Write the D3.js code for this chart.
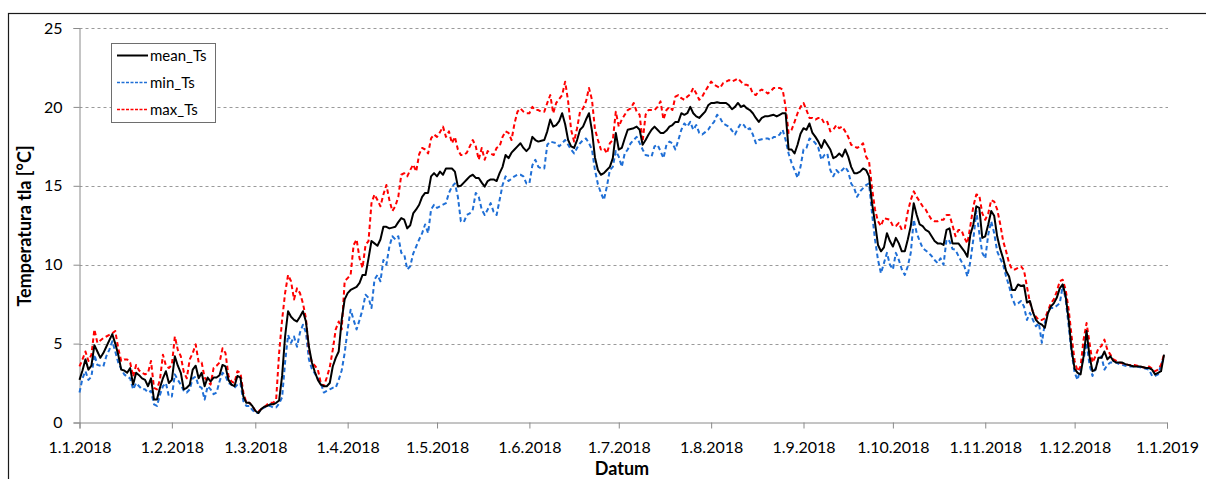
<!DOCTYPE html>
<html>
<head>
<meta charset="utf-8">
<script src="https://cdn.jsdelivr.net/npm/d3@7"></script>
<style>
  html, body { margin: 0; padding: 0; background: #fff; }
  svg { display: block; font-family: "Lato", "Liberation Sans", sans-serif; }
</style>
</head>
<body>
<svg id="chart" width="1206" height="479"></svg>
<script>
// Daily soil temperature, 1.1.2018 - 31.12.2018 (°C)
const startDate = new Date(2018, 0, 1);
const endDate = new Date(2019, 0, 1);

const meanTs = [
  2.7, 3.3, 4.0, 3.35, 3.6, 4.9, 4.5, 4.1, 4.4, 4.8,
  5.2, 5.6, 5.0, 4.3, 3.35, 3.3, 3.15, 3.45, 2.4, 3.15,
  3.0, 2.8, 2.7, 2.3, 2.8, 1.45, 1.45, 2.2, 2.8, 3.25,
  2.5, 2.7, 4.2, 3.6, 3.15, 2.1, 2.2, 2.4, 3.35, 3.6,
  2.8, 3.15, 2.3, 2.85, 2.6, 2.85, 2.85, 3.0, 3.65, 3.55,
  2.7, 2.4, 2.3, 2.95, 2.85, 1.65, 1.25, 1.25, 1.05, 0.75,
  0.6, 0.85, 1.0, 1.05, 1.15, 1.15, 1.25, 1.4, 2.95, 5.45,
  7.05, 6.7, 6.5, 6.4, 6.7, 7.05, 6.4, 4.8, 3.8, 3.2,
  2.7, 2.4, 2.3, 2.3, 2.5, 3.55, 4.1, 4.5, 6.5, 7.8,
  8.2, 8.4, 8.5, 8.6, 8.85, 9.35, 9.35, 10.4, 11.5, 11.35,
  11.2, 11.6, 12.4, 12.4, 12.3, 12.35, 12.4, 12.7, 12.95, 12.85,
  12.3, 12.5, 13.25, 13.5, 13.8, 14.3, 14.55, 14.55, 15.6, 15.8,
  15.6, 15.9, 15.7, 16.1, 16.1, 16.1, 15.9, 14.95, 15.0, 15.2,
  15.4, 15.6, 15.7, 15.5, 15.5, 15.2, 14.95, 15.3, 15.4, 15.4,
  15.3, 15.8, 16.2, 16.95, 16.75, 17.1, 17.3, 17.5, 17.7, 17.4,
  17.2, 17.4, 18.1, 17.9, 17.8, 17.85, 17.9, 18.45, 19.2, 18.75,
  18.85, 19.1, 19.6, 18.9, 17.9, 17.5, 17.4, 17.9, 18.55, 18.75,
  19.2, 19.6, 18.5, 16.8, 16.0, 15.7, 15.8, 16.0, 16.2, 16.75,
  18.35, 17.3, 17.4, 18.0, 18.55, 18.6, 18.65, 18.75, 18.55, 17.6,
  17.9, 18.25, 18.55, 18.75, 18.55, 18.35, 18.35, 18.5, 18.75, 18.85,
  19.05, 19.05, 19.6, 19.5, 19.6, 20.0, 19.6, 19.4, 19.3, 19.5,
  19.7, 20.1, 20.25, 20.25, 20.3, 20.25, 20.25, 20.25, 20.1, 19.85,
  20.0, 20.25, 20.0, 20.1, 19.9, 19.8, 19.6, 19.3, 19.05, 19.3,
  19.4, 19.4, 19.45, 19.5, 19.4, 19.5, 19.6, 19.6, 17.3, 17.3,
  17.05, 17.6, 18.3, 18.65, 18.55, 18.95, 18.35, 18.1, 17.8, 17.4,
  17.9, 17.6, 17.3, 16.75, 16.85, 17.05, 16.85, 17.3, 16.85, 16.2,
  15.8, 15.8, 15.9, 16.1, 16.0, 15.6, 13.9, 12.65, 11.25, 10.85,
  11.1, 12.0, 11.5, 11.15, 11.7, 11.35, 10.85, 10.85, 11.6, 12.45,
  13.9, 13.15, 12.55, 12.45, 12.2, 12.1, 11.8, 11.5, 11.35, 11.35,
  11.25, 12.2, 12.3, 11.35, 11.35, 11.35, 11.1, 10.85, 10.5, 11.9,
  12.55, 13.7, 13.6, 11.7, 11.8, 12.55, 13.4, 13.1, 11.8, 11.0,
  10.4, 9.6, 9.25, 8.4, 8.4, 8.75, 8.65, 8.7, 7.6, 7.7,
  7.0, 6.5, 6.3, 6.2, 6.0, 6.9, 7.35, 7.55, 7.9, 8.5,
  8.75, 8.0, 6.5, 4.6, 3.4, 3.15, 3.05, 4.2, 5.8, 4.2,
  3.25, 3.35, 4.1, 4.1, 4.5, 4.0, 4.2, 3.9, 3.8, 3.8,
  3.8, 3.7, 3.65, 3.6, 3.55, 3.55, 3.55, 3.5, 3.45, 3.45,
  3.35, 3.05, 3.15, 3.25, 4.3
];

const minTs = [
  1.9, 2.8, 3.25, 2.7, 2.9, 4.3, 3.65, 3.6, 3.55, 4.2,
  4.6, 5.15, 4.5, 3.8, 3.4, 3.05, 2.9, 2.8, 2.1, 2.5,
  2.3, 2.1, 2.1, 1.9, 2.0, 1.15, 1.05, 1.75, 2.3, 2.5,
  1.65, 1.65, 3.05, 2.7, 2.4, 2.0, 1.9, 2.1, 2.8, 2.9,
  2.3, 2.2, 1.45, 2.3, 2.1, 1.8, 1.9, 2.6, 3.15, 2.95,
  2.5, 2.4, 2.2, 2.4, 2.5, 1.35, 1.05, 1.05, 0.8, 0.6,
  0.6, 0.85, 0.95, 1.05, 1.05, 0.95, 0.95, 1.2, 1.6, 3.8,
  5.55, 5.05, 5.45, 4.8, 5.7, 6.2, 5.7, 4.0, 3.4, 3.1,
  2.8, 2.5, 1.9, 2.0, 2.1, 2.2, 2.2, 2.7, 3.3, 4.4,
  5.9, 7.15, 6.5, 5.9, 6.5, 7.15, 8.1, 7.9, 7.25, 9.05,
  9.35, 8.95, 10.3, 10.0, 11.15, 11.8, 11.6, 11.8, 10.75, 10.65,
  9.7, 9.9, 10.7, 11.15, 11.6, 12.0, 12.55, 12.0, 13.5, 13.8,
  13.6, 13.7, 13.8, 13.9, 14.55, 14.95, 15.15, 14.3, 12.75, 12.7,
  13.15, 13.25, 13.5, 14.55, 14.3, 13.5, 13.15, 13.5, 13.9, 13.35,
  13.15, 14.1, 15.05, 15.6, 15.3, 15.45, 15.6, 15.7, 15.7, 15.6,
  15.15, 15.15, 16.3, 16.65, 16.2, 16.1, 16.1, 17.6, 17.8, 17.75,
  17.7, 17.5, 17.7, 17.9, 17.6, 17.3, 17.05, 17.4, 17.7, 17.9,
  18.0, 17.7, 17.3, 16.0, 15.1, 14.55, 14.1, 14.95, 16.0, 16.2,
  17.2, 16.85, 16.2, 17.05, 17.3, 17.7, 17.9, 18.1, 17.7, 17.3,
  16.95, 16.9, 16.85, 17.5, 17.6, 17.2, 16.75, 17.6, 17.8, 17.7,
  17.3, 17.9, 18.55, 18.95, 18.75, 19.05, 18.55, 18.85, 18.35, 18.25,
  18.4, 18.55, 18.85, 19.05, 19.5, 19.3, 18.95, 18.85, 18.75, 18.5,
  18.25, 18.65, 18.95, 18.85, 18.55, 18.65, 18.25, 17.7, 17.9, 17.95,
  18.0, 18.0, 17.9, 18.1, 18.1, 18.25, 18.55, 17.9, 17.05, 16.45,
  16.0, 15.5, 16.2, 17.3, 17.4, 18.0, 17.9, 17.7, 17.4, 16.65,
  16.95, 17.05, 16.0, 15.6, 16.0, 15.8, 16.0, 16.2, 15.9, 15.15,
  14.85, 14.3, 14.65, 14.85, 15.05, 15.15, 13.25, 11.6, 10.3, 9.45,
  10.1, 10.75, 10.0, 9.7, 10.75, 10.3, 9.7, 9.35, 9.9, 10.75,
  12.85, 12.0, 11.5, 11.05, 10.9, 10.75, 10.55, 10.3, 10.1, 10.4,
  10.0, 11.6, 11.5, 11.0, 10.95, 10.55, 10.2, 9.9, 9.25, 10.2,
  11.6, 13.4, 12.0, 10.75, 10.4, 11.9, 12.75, 12.0, 10.85, 10.4,
  10.0, 9.25, 8.65, 7.9, 7.45, 7.55, 7.7, 7.35, 6.5, 6.95,
  6.5, 6.1, 6.3, 5.05, 6.3, 7.05, 7.25, 7.25, 7.4, 7.55,
  8.65, 7.8, 6.1, 4.4, 3.15, 2.7, 3.5, 4.0, 5.05, 3.65,
  2.95, 3.45, 4.0, 4.2, 3.35, 3.65, 3.8, 3.8, 3.8, 3.7,
  3.65, 3.6, 3.55, 3.55, 3.55, 3.55, 3.5, 3.45, 3.4, 3.35,
  2.95, 2.95, 3.05, 3.65, 4.1
];

const maxTs = [
  3.55, 4.0, 4.5, 3.9, 4.3, 5.9, 5.05, 5.2, 5.35, 5.45,
  5.55, 5.65, 5.8, 4.7, 3.9, 4.0, 4.0, 3.8, 2.9, 3.65,
  3.3, 3.15, 3.05, 3.15, 3.9, 2.2, 2.1, 2.7, 4.3, 3.6,
  3.45, 3.65, 5.45, 4.6, 4.2, 3.2, 2.8, 4.0, 4.4, 4.95,
  3.8, 3.8, 2.85, 2.6, 2.4, 3.45, 3.6, 3.8, 4.7, 4.4,
  2.95, 2.6, 2.5, 3.25, 3.15, 1.9, 1.25, 1.25, 1.05, 0.75,
  0.7, 0.85, 0.95, 1.15, 1.25, 1.25, 1.45, 4.4, 6.5, 8.2,
  9.35, 8.95, 7.8, 8.5, 8.2, 7.55, 6.6, 4.6, 3.8, 3.6,
  3.35, 2.5, 2.3, 2.85, 3.5, 4.6, 5.9, 6.4, 5.9, 8.95,
  9.15, 9.35, 11.25, 11.6, 10.4, 9.8, 11.25, 11.5, 13.9, 14.45,
  14.1, 13.7, 14.45, 15.05, 14.1, 13.4, 13.7, 14.3, 15.7, 15.8,
  15.6, 16.0, 16.35, 15.9, 17.0, 17.4, 17.3, 17.05, 18.0, 18.25,
  18.1, 18.4, 18.75, 18.1, 18.45, 17.7, 18.1, 17.3, 16.95, 16.95,
  17.1, 17.5, 17.9, 17.5, 16.65, 17.4, 16.65, 17.2, 17.05, 16.95,
  17.4, 17.5, 18.1, 18.45, 18.35, 17.9, 18.95, 19.7, 19.9, 19.7,
  19.6, 19.6, 20.0, 19.8, 19.8, 19.7, 19.7, 20.25, 20.75, 19.6,
  20.25, 20.5, 20.75, 21.6, 20.35, 18.55, 17.8, 18.65, 19.7, 19.9,
  20.35, 21.2, 20.45, 18.6, 17.9, 17.3, 17.4, 17.05, 17.7, 17.9,
  19.7, 18.75, 19.2, 19.5, 19.8, 19.9, 20.25, 19.7, 19.5, 17.8,
  19.5, 19.8, 19.8, 19.8, 20.0, 20.35, 19.2, 19.8, 20.0, 19.8,
  20.65, 20.75, 20.55, 20.45, 20.65, 20.8, 21.2, 20.85, 20.45, 20.65,
  21.0, 21.3, 21.6, 21.4, 21.3, 21.2, 21.5, 21.6, 21.7, 21.6,
  21.7, 21.8, 21.6, 21.4, 21.4, 21.3, 20.85, 20.75, 21.0, 21.1,
  21.0, 20.85, 21.0, 21.2, 21.2, 21.2, 21.1, 20.0, 18.35, 18.55,
  19.05, 19.6, 20.0, 20.25, 19.8, 19.3, 19.3, 19.2, 19.3, 19.3,
  18.95, 19.05, 18.45, 18.55, 18.85, 18.65, 18.75, 18.45, 18.1, 17.6,
  17.5, 17.4, 17.5, 17.7, 16.85, 16.55, 14.85, 13.5, 12.75, 12.45,
  12.95, 12.9, 12.85, 12.45, 12.45, 12.65, 12.2, 12.3, 13.35, 14.1,
  14.65, 14.3, 14.0, 13.7, 13.5, 13.15, 12.85, 12.75, 12.75, 12.85,
  12.85, 13.15, 13.15, 12.5, 11.8, 12.2, 12.2, 11.7, 11.35, 12.45,
  13.7, 14.45, 14.4, 13.25, 12.85, 13.25, 14.1, 14.0, 13.5, 12.6,
  11.5, 10.85, 10.1, 9.7, 9.7, 9.8, 9.9, 9.65, 8.6, 7.6,
  7.0, 6.7, 6.5, 6.5, 6.6, 7.05, 7.55, 7.8, 8.3, 8.95,
  9.05, 8.4, 7.15, 5.45, 3.9, 3.25, 3.55, 5.25, 6.3, 5.05,
  3.8, 4.2, 4.7, 4.85, 5.25, 4.6, 4.3, 4.0, 3.9, 3.8,
  3.75, 3.7, 3.65, 3.65, 3.65, 3.6, 3.55, 3.5, 3.45, 3.55,
  3.4, 3.25, 3.35, 3.65, 4.3
];

const seriesNames = ["mean_Ts", "min_Ts", "max_Ts"];
const seriesColors = ["#000000", "#1f6fd6", "#ff0000"];
const yTicks = [0, 5, 10, 15, 20, 25];
const xTitle = "Datum";
const yTitle = "Temperatura tla [°C]";

const svg = d3.select("#chart");

// outer chart frame (runs past the right and bottom edges)
svg.append("rect")
  .attr("x", 8.5).attr("y", 13.5)
  .attr("width", 1400).attr("height", 700)
  .attr("fill", "none").attr("stroke", "#1a1a1a").attr("stroke-width", 1.2);

const x = d3.scaleTime().domain([startDate, endDate]).range([79.5, 1167]);
const y = d3.scaleLinear().domain([0, 25]).range([422.5, 28]);

const dates = d3.range(meanTs.length).map(i => d3.timeDay.offset(startDate, i));

// horizontal dashed gridlines
svg.append("g").selectAll("line")
  .data(yTicks.filter(t => t > 0))
  .join("line")
  .attr("x1", x.range()[0]).attr("x2", 1168)
  .attr("y1", d => Math.round(y(d)) + 0.5).attr("y2", d => Math.round(y(d)) + 0.5)
  .attr("stroke", "#9a9a9a").attr("stroke-width", 1)
  .attr("stroke-dasharray", "3,3");

// y axis
const yAxis = d3.axisLeft(y).tickValues(yTicks).tickSize(6).tickPadding(11)
  .tickFormat(d3.format("d"));
const gy = svg.append("g").attr("transform", `translate(${x.range()[0]},0)`).call(yAxis);
gy.select(".domain").attr("stroke", "#8a8a8a");
gy.selectAll(".tick line").attr("stroke", "#8a8a8a");
gy.selectAll(".tick text")
  .attr("font-family", "Lato, sans-serif")
  .attr("font-size", 16).attr("fill", "#000");

// x axis
const xTickDates = d3.timeMonth.range(startDate, d3.timeDay.offset(endDate, 1));
const xAxis = d3.axisBottom(x).tickValues(xTickDates).tickSize(6).tickPadding(13)
  .tickFormat(d3.timeFormat("%-d.%-m.%Y"));
const gx = svg.append("g").attr("transform", `translate(0,${y(0)})`).call(xAxis);
gx.select(".domain").attr("stroke", "#8a8a8a");
gx.selectAll(".tick line").attr("stroke", "#8a8a8a");
gx.selectAll(".tick text")
  .attr("font-family", "Lato, sans-serif")
  .attr("font-size", 16).attr("fill", "#000");

// axis titles
svg.append("text")
  .attr("x", 622).attr("y", 475)
  .attr("text-anchor", "middle")
  .attr("font-family", "Lato, sans-serif")
  .attr("font-weight", "bold").attr("font-size", 18)
  .text(xTitle);

svg.append("text")
  .attr("transform", "translate(31,226) rotate(-90)")
  .attr("text-anchor", "middle")
  .attr("font-family", "Lato, sans-serif")
  .attr("font-weight", "bold").attr("font-size", 18)
  .text(yTitle);

// series lines
const line = d3.line()
  .x((d, i) => x(dates[i]))
  .y(d => y(d));

const series = [
  { name: seriesNames[1], values: minTs, color: seriesColors[1], dash: "4.5,3", width: 2 },
  { name: seriesNames[2], values: maxTs, color: seriesColors[2], dash: "4.5,3", width: 2 },
  { name: seriesNames[0], values: meanTs, color: seriesColors[0], dash: null, width: 2 }
];

svg.append("g").selectAll("path")
  .data(series)
  .join("path")
  .attr("d", d => line(d.values))
  .attr("fill", "none")
  .attr("stroke", d => d.color)
  .attr("stroke-width", d => d.width)
  .attr("stroke-dasharray", d => d.dash)
  .attr("stroke-linejoin", "round");

// legend
const legend = svg.append("g");
legend.append("rect")
  .attr("x", 111.5).attr("y", 43.5)
  .attr("width", 104).attr("height", 79)
  .attr("fill", "#fff").attr("stroke", "#6e6e6e").attr("stroke-width", 1);

const legendItems = [
  { name: seriesNames[0], color: seriesColors[0], dash: null, width: 2 },
  { name: seriesNames[1], color: seriesColors[1], dash: "3,1.5", width: 1.5 },
  { name: seriesNames[2], color: seriesColors[2], dash: "3,1.5", width: 1.5 }
];

const li = legend.selectAll("g.item").data(legendItems).join("g")
  .attr("transform", (d, i) => `translate(0,${55.5 + i * 27})`);
li.append("line")
  .attr("x1", 117).attr("x2", 148)
  .attr("stroke", d => d.color)
  .attr("stroke-width", d => d.width)
  .attr("stroke-dasharray", d => d.dash);
li.append("text")
  .attr("x", 150).attr("y", 5.5)
  .attr("font-family", "Lato, sans-serif")
  .attr("font-size", 15).attr("fill", "#000")
  .text(d => d.name);
</script>
</body>
</html>
